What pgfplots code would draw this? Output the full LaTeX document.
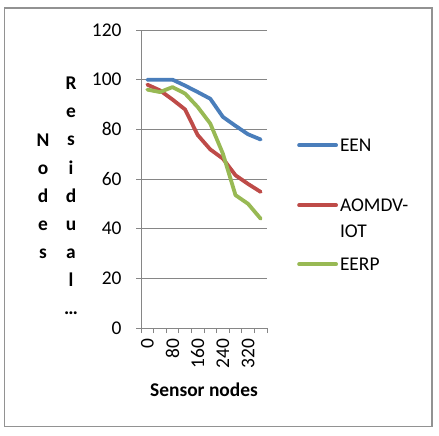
\documentclass[border=0pt]{standalone}
\usepackage{pgfplots}
\pgfplotsset{compat=1.18}
\usepackage{fontspec}
\setmainfont{Carlito}
\definecolor{een}{HTML}{4A7EBB}
\definecolor{aomdv}{HTML}{BE4B48}
\definecolor{eerp}{HTML}{98B954}
\definecolor{axgray}{HTML}{868686}
\begin{document}
\begin{tikzpicture}
\path[use as bounding box] (0,0) rectangle (439bp,436bp);
\draw[color=axgray!90, line width=1.3bp] (4.5bp,9.5bp) rectangle (432bp,428bp);
\begin{axis}[
  at={(141bp,108bp)}, anchor=south west,
  scale only axis, width=126bp, height=298bp,
  xmin=-20, xmax=380, ymin=0, ymax=120,
  axis x line*=bottom, axis y line*=left,
  axis line style={color=axgray, line width=0.9bp, -},
  ytick={0,20,...,120},
  ymajorgrids, grid style={color=axgray, line width=0.9bp},
  tick align=outside, major tick length=5bp,
  tick style={color=axgray, line width=0.9bp},
  xtick={-20,20,...,380}, xticklabels={},
  extra x ticks={0,80,160,240,320},
  extra x tick labels={0,80,160,240,320},
  extra x tick style={major tick length=0pt, xticklabel style={yshift=-7bp, rotate=90, anchor=east}, grid=none},
  /pgf/number format/assume math mode=true,
  tick label style={font=\fontsize{19.5}{23}\selectfont, text=black},
  yticklabel style={xshift=-11bp},
  xlabel={\bfseries Sensor nodes},
  xlabel style={font=\fontsize{19.5}{23}\selectfont, at={(axis description cs:0.5,0)}, anchor=center, yshift=-62bp},
  legend style={at={(axis description cs:1,1)}, anchor=north west, xshift=30bp, yshift=-61.3bp,
    draw=none, fill=none, inner sep=0pt, font=\fontsize{19.5}{25}\selectfont, row sep=0bp, column sep=2bp,
    nodes={inner xsep=0pt, inner ysep=0pt, text height=0pt, text depth=0pt}},
  legend cell align=left,
  legend image code/.code={\draw[#1] (0bp,0bp) -- (37bp,0bp);},
  every axis plot/.append style={line width=3.8bp, line join=round, line cap=round, mark=none},
  clip=false,
]
\addplot[color=een] coordinates {(0,100) (40,100) (80,100) (120,97.6) (160,95) (200,92.3) (240,85) (280,81.4) (320,78) (360,75.9)};
\addlegendentry[text height=60bp, text depth=47.4bp]{EEN}
\addplot[color=aomdv] coordinates {(0,98) (40,95.7) (80,92) (120,88) (160,77.7) (200,71.9) (240,68.2) (280,61.5) (320,58) (360,54.8)};
\addlegendentry[text height=12.6bp, text depth=0bp]{AOMDV-}
\addlegendimage{empty legend}
\addlegendentry[text height=26bp, text depth=13.4bp]{IOT}
\addplot[color=eerp] coordinates {(0,96) (40,95) (80,97) (120,94.4) (160,89) (200,82.3) (240,70.2) (280,53.5) (320,50) (360,44)};
\addlegendentry[text height=19.6bp, text depth=7bp]{EERP}
\end{axis}
\node[anchor=base, align=center, font=\fontsize{19.5}{28.3}\selectfont\bfseries] at (43bp,177bp) {N\\o\\d\\e\\s};
\node[anchor=base, align=center, font=\fontsize{19.5}{28.3}\selectfont\bfseries] at (71bp,121bp) {R\\e\\s\\i\\d\\u\\a\\l\\…};
\end{tikzpicture}
\end{document}
